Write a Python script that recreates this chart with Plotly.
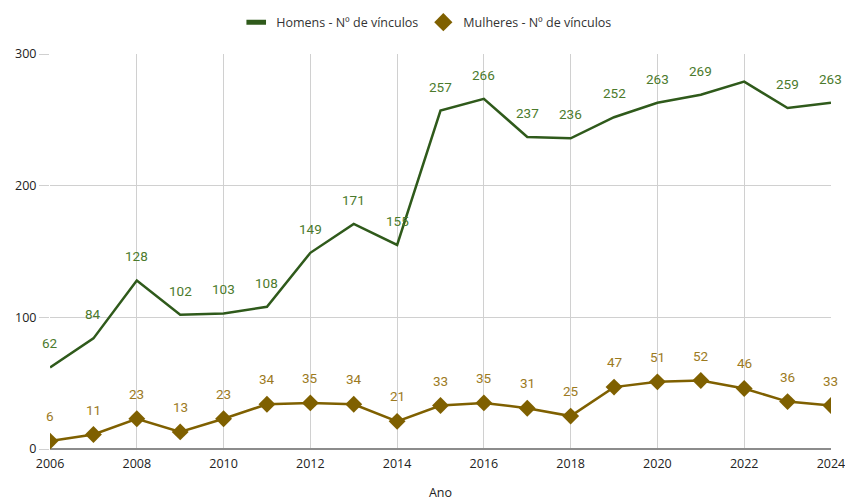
import plotly.graph_objects as go

anos = list(range(2006, 2025))
homens = [62, 84, 128, 102, 103, 108, 149, 171, 155, 257, 266, 237, 236, 252, 263, 269, 279, 259, 263]
mulheres = [6, 11, 23, 13, 23, 34, 35, 34, 21, 33, 35, 31, 25, 47, 51, 52, 46, 36, 33]
homens_rotulos = [str(v) for v in homens]
homens_rotulos[16] = ""  # label not shown in reference
mulheres_rotulos = [str(v) for v in mulheres]
ticks_x = list(range(2006, 2025, 2))
ticks_y = [0, 100, 200, 300]

cor_h = "#2f5a1b"
cor_m = "#7f6000"
cor_h_txt = "#4b7a2c"
cor_m_txt = "#9c7a1e"

fig = go.Figure()
fig.add_trace(go.Scatter(
    x=anos, y=homens, mode="lines", name="Homens - Nº de vínculos",
    line=dict(color=cor_h, width=2.5), showlegend=False))
fig.add_trace(go.Scatter(
    x=anos, y=mulheres, mode="lines+markers", name="Mulheres - Nº de vínculos",
    line=dict(color=cor_m, width=2.5),
    marker=dict(symbol="diamond", size=13, color=cor_m), showlegend=False))
# legend entries
fig.add_trace(go.Scatter(
    x=[None], y=[None], mode="markers", name="Homens - Nº de vínculos",
    marker=dict(symbol="line-ew", size=14, color=cor_h, line=dict(color=cor_h, width=5))))
fig.add_trace(go.Scatter(
    x=[None], y=[None], mode="markers", name="Mulheres - Nº de vínculos",
    marker=dict(symbol="diamond", size=14, color=cor_m)))

for x, y, t in zip(anos, homens, homens_rotulos):
    if t:
        fig.add_annotation(x=x, y=y, text=t, showarrow=False, yshift=24,
                           font=dict(family="Roboto", size=13.5, color=cor_h_txt))
for x, y, t in zip(anos, mulheres, mulheres_rotulos):
    fig.add_annotation(x=x, y=y, text=t, showarrow=False, yshift=25,
                       font=dict(family="Roboto", size=13.5, color=cor_m_txt))

fig.update_layout(
    width=845, height=504,
    margin=dict(l=50, r=14, t=54, b=55),
    plot_bgcolor="white", paper_bgcolor="white",
    font=dict(family="Open Sans", size=13, color="#222"),
    legend=dict(orientation="h", x=0.505, xanchor="center", xref="container",
                y=0.985, yanchor="top", yref="container",
                font=dict(size=12.5, color="#333"),
                itemwidth=30),
    showlegend=True,
    hovermode=False,
)
fig.update_xaxes(
    range=[2005.999, 2024.001], tickvals=ticks_x, automargin=False,
    ticklabeloverflow="allow",
    showgrid=True, gridcolor="#d0d0d0", gridwidth=1,
    showline=False, zeroline=False,
    title=dict(text="Ano", font=dict(size=12.5, color="#222"), standoff=17),
    ticks="outside", ticklen=3, tickcolor="rgba(0,0,0,0)",
    tickfont=dict(size=12.5, color="#222"),
)
fig.update_yaxes(
    range=[0, 300], tickvals=ticks_y, automargin=False,
    showgrid=True, gridcolor="#d0d0d0", gridwidth=1,
    zeroline=True, zerolinecolor="#8c8c8c", zerolinewidth=2,
    ticks="outside", ticklen=10, tickcolor="#d0d0d0",
    tickfont=dict(size=12.5, color="#222"),
)
# remove the default page margin so the figure fills the window exactly
fig.write_html("out.html",
               config={"displayModeBar": False},
               post_script="document.body.style.margin='0';document.body.style.overflow='hidden';")
